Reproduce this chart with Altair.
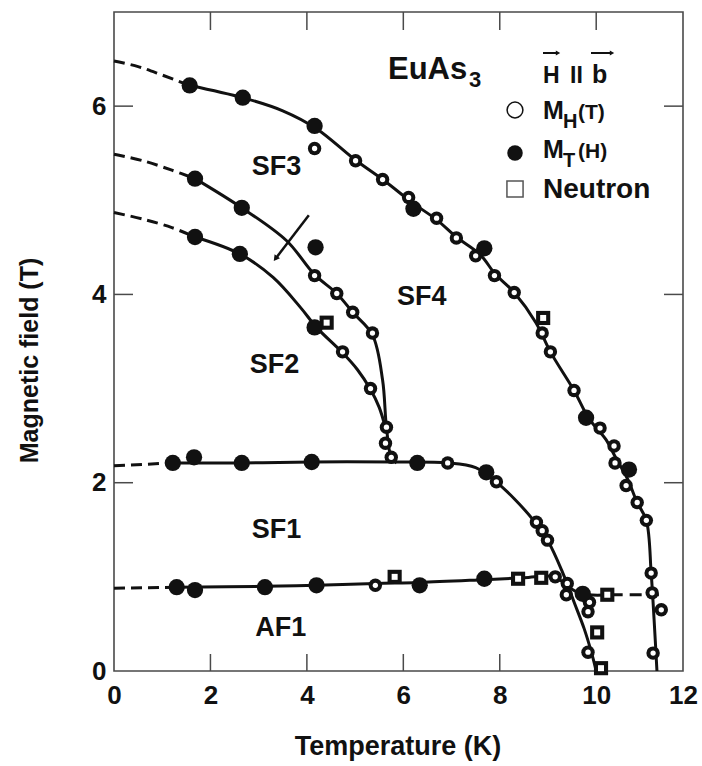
import altair as alt
import pandas as pd

# ---------------- data ----------------
# Phase-boundary curves (solid parts), Temperature (K) / Field (T)
c1_T = [1.57, 2.67, 3.5, 4.2, 5.0, 5.6, 6.2, 6.7, 7.1, 7.6, 7.9, 8.3, 8.75, 9.05, 9.54, 9.85, 10.2, 10.4, 10.65, 10.85, 11.04, 11.14, 11.2, 11.26]
c1_H = [6.22, 6.09, 5.95, 5.76, 5.43, 5.21, 4.97, 4.79, 4.61, 4.42, 4.22, 4.02, 3.70, 3.39, 2.98, 2.68, 2.46, 2.27, 2.04, 1.79, 1.60, 1.04, 0.55, 0.0]
c2_T = [1.68, 2.65, 3.58, 4.16, 4.62, 4.95, 5.36, 5.57, 5.65, 5.75, 5.86]
c2_H = [5.23, 4.92, 4.57, 4.21, 4.01, 3.81, 3.57, 3.09, 2.59, 2.27, 2.21]
c3_T = [1.68, 2.61, 3.3, 3.87, 4.2, 4.74, 5.05, 5.32, 5.5, 5.62]
c3_H = [4.61, 4.43, 4.18, 3.86, 3.65, 3.38, 3.2, 2.99, 2.8, 2.6]
c4_T = [1.22, 2.65, 4.1, 5.8, 6.92, 7.5, 7.9, 8.3, 8.7, 9.0, 9.3, 9.55, 9.75, 9.9, 10.0]
c4_H = [2.21, 2.21, 2.22, 2.22, 2.21, 2.16, 2.02, 1.83, 1.6, 1.38, 1.05, 0.72, 0.45, 0.2, 0.0]
c5_T = [1.3, 3.13, 4.2, 5.42, 6.34, 7.68, 8.5, 9.15, 9.4, 9.7, 10.3]
c5_H = [0.89, 0.9, 0.91, 0.93, 0.94, 0.97, 0.99, 1.0, 0.9, 0.82, 0.81]
# dashed extrapolations
d1_T, d1_H = [0.0, 0.5, 1.0, 1.57], [6.48, 6.42, 6.33, 6.22]
d2_T, d2_H = [0.0, 0.6, 1.2, 1.68], [5.49, 5.42, 5.32, 5.23]
d3_T, d3_H = [0.0, 0.6, 1.2, 1.68], [4.87, 4.80, 4.71, 4.61]
d4_T, d4_H = [0.0, 1.22], [2.18, 2.21]
d5_T, d5_H = [0.0, 1.3], [0.88, 0.89]
d6_T, d6_H = [10.3, 11.3], [0.81, 0.81]

# M_H(T) open circles
open_T = [4.16, 5.01, 5.57, 6.11, 6.69, 7.10, 7.50, 7.89, 8.30, 8.88, 9.05, 9.54, 10.08, 10.37, 10.39,
          10.62, 10.85, 11.04, 11.14, 11.16, 11.35, 11.18,
          4.16, 4.62, 4.95, 5.36, 5.65, 5.63, 5.75, 4.74, 5.32,
          6.92, 7.93, 8.76, 8.88, 8.99, 9.40, 9.38, 9.86, 9.83, 9.83, 5.42, 9.15]
open_H = [5.55, 5.42, 5.22, 5.03, 4.81, 4.60, 4.41, 4.20, 4.02, 3.59, 3.39, 2.98, 2.58, 2.39, 2.21,
          1.97, 1.79, 1.60, 1.04, 0.83, 0.65, 0.19,
          4.20, 4.01, 3.81, 3.59, 2.59, 2.42, 2.27, 3.39, 3.00,
          2.21, 2.01, 1.58, 1.49, 1.39, 0.93, 0.81, 0.73, 0.63, 0.20, 0.91, 1.00]
# M_T(H) filled circles
fill_T = [1.57, 2.67, 4.16, 6.21, 7.68, 9.79, 10.68, 1.68, 2.65, 4.18, 1.68, 2.61, 4.16,
          1.22, 1.66, 2.65, 4.10, 6.29, 7.72, 1.30, 1.68, 3.13, 4.20, 6.34, 7.68, 9.72]
fill_H = [6.22, 6.09, 5.79, 4.91, 4.49, 2.69, 2.14, 5.23, 4.92, 4.50, 4.61, 4.43, 3.65,
          2.21, 2.27, 2.21, 2.22, 2.21, 2.11, 0.89, 0.86, 0.89, 0.91, 0.91, 0.98, 0.82]
# Neutron open squares
sq_T = [4.41, 8.90, 5.82, 8.38, 8.86, 10.23, 10.02, 10.1]
sq_H = [3.70, 3.75, 1.00, 0.98, 0.99, 0.81, 0.41, 0.03]

# region labels
reg_names = ["SF3", "SF4", "SF2", "SF1", "AF1"]
reg_T = [3.37, 6.38, 3.33, 3.37, 3.46]
reg_H = [5.27, 3.89, 3.17, 1.41, 0.37]

# tick values
x_ticks_bottom = [2, 4, 6, 8]
x_ticks_top = [2, 4, 6, 8, 10]
y_ticks = [2, 4, 6]
x_label_vals = [0, 2, 4, 6, 8, 10, 11.8]
y_label_vals = [0, 2, 4, 6]

# arrow marker across the SF3 line
arr_T, arr_H, arr_T2, arr_H2 = [4.04], [4.84], [3.35], [4.38]

# ---------------- build ----------------
W, H = 569, 659
FONT = "Liberation Sans"
INK = "#111111"
FRAME = "#4a4a4a"

def curve_df(name, T, Hv):
    return pd.DataFrame({"T": T, "H": Hv, "curve": name, "i": list(range(len(T)))})

solid = pd.concat([curve_df("c1", c1_T, c1_H), curve_df("c2", c2_T, c2_H),
                   curve_df("c3", c3_T, c3_H), curve_df("c4", c4_T, c4_H),
                   curve_df("c5", c5_T, c5_H)])
dashed = pd.concat([curve_df("d1", d1_T, d1_H), curve_df("d2", d2_T, d2_H),
                    curve_df("d3", d3_T, d3_H), curve_df("d4", d4_T, d4_H),
                    curve_df("d5", d5_T, d5_H)])
dashed2 = curve_df("d6", d6_T, d6_H)

xs = alt.Scale(domain=[0, 11.8], nice=False, zero=False)
ys = alt.Scale(domain=[0, 7], nice=False, zero=False)

xaxis = alt.Axis(values=x_label_vals, labelExpr="datum.value > 11 ? '12' : datum.label",
                 ticks=False, grid=False, domain=False,
                 labelFont=FONT, labelFontSize=26, labelFontWeight="bold", labelColor=INK,
                 labelPadding=11, labelFlush=False,
                 title="Temperature (K)", titleFont=FONT, titleFontSize=27, titleFontWeight="bold",
                 titleColor=INK, titleX=W / 2 - 1, titleY=75, titleBaseline="middle", titleAlign="center")
yaxis = alt.Axis(values=y_label_vals, ticks=False, grid=False, domain=False,
                 labelFont=FONT, labelFontSize=26, labelFontWeight="bold", labelColor=INK,
                 labelPadding=8, labelFlush=False,
                 title="Magnetic field (T)", titleFont=FONT, titleFontSize=25, titleFontWeight="bold",
                 titleColor=INK, titleX=-85, titleY=348, titleAngle=-90, titleBaseline="middle",
                 titleAlign="center")

def X(f="T"):
    return alt.X(f + ":Q", scale=xs, axis=xaxis, title="Temperature (K)")

def Y(f="H"):
    return alt.Y(f + ":Q", scale=ys, axis=yaxis, title="Magnetic field (T)")

lines = alt.Chart(solid).mark_line(color=INK, strokeWidth=3, interpolate="catmull-rom").encode(
    x=X(), y=Y(), detail="curve:N", order="i:Q")
dlines = alt.Chart(dashed).mark_line(color=INK, strokeWidth=3, strokeDash=[11, 6],
                                     interpolate="catmull-rom").encode(
    x=X(), y=Y(), detail="curve:N", order="i:Q")
dlines2 = alt.Chart(dashed2).mark_line(color=INK, strokeWidth=3, strokeDash=[12, 7]).encode(
    x=X(), y=Y(), order="i:Q")

arrow_df = pd.DataFrame({"T": arr_T, "H": arr_H, "T2": arr_T2, "H2": arr_H2})
arrow = alt.Chart(arrow_df).mark_rule(color=INK, strokeWidth=2.5).encode(
    x=X(), y=Y(), x2="T2:Q", y2="H2:Q")
arrow_head = alt.Chart(arrow_df).mark_point(shape="triangle-up", filled=True, color=INK,
                                            size=45, angle=217, opacity=1).encode(
    x=X("T2"), y=Y("H2"))

sq_df = pd.DataFrame({"T": sq_T, "H": sq_H})
op_df = pd.DataFrame({"T": open_T, "H": open_H})
sq_out = alt.Chart(sq_df).mark_square(color=INK, size=200, opacity=1).encode(x=X(), y=Y())
sq_in = alt.Chart(sq_df).mark_square(color="white", size=36, opacity=1).encode(x=X(), y=Y())
op_out = alt.Chart(op_df).mark_circle(color=INK, size=180, opacity=1).encode(x=X(), y=Y())
op_in = alt.Chart(op_df).mark_circle(color="white", size=28, opacity=1).encode(x=X(), y=Y())
fi = alt.Chart(pd.DataFrame({"T": fill_T, "H": fill_H})).mark_circle(
    color=INK, size=265, opacity=1).encode(x=X(), y=Y())

regions = alt.Chart(pd.DataFrame({"T": reg_T, "H": reg_H, "name": reg_names})).mark_text(
    font=FONT, fontSize=27, fontWeight="bold", color=INK, align="center", baseline="alphabetic").encode(
    x=X(), y=Y(), text="name:N")

# inward ticks
tb = alt.Chart(pd.DataFrame({"T": x_ticks_bottom})).mark_rule(color=FRAME, strokeWidth=1.5).encode(
    x=X(), y=alt.value(H), y2=alt.value(H - 17))
tt = alt.Chart(pd.DataFrame({"T": x_ticks_top})).mark_rule(color=FRAME, strokeWidth=1.5).encode(
    x=X(), y=alt.value(0), y2=alt.value(18))
tl = alt.Chart(pd.DataFrame({"H": y_ticks})).mark_rule(color=FRAME, strokeWidth=1.5).encode(
    y=Y(), x=alt.value(0), x2=alt.value(19))
tr = alt.Chart(pd.DataFrame({"H": y_ticks})).mark_rule(color=FRAME, strokeWidth=1.5).encode(
    y=Y(), x=alt.value(W), x2=alt.value(W - 19))

# annotation texts (pixel positions in plot coordinates)
def txt(s, x, y, size, align="left"):
    return alt.Chart(pd.DataFrame({"t": [s]})).mark_text(
        font=FONT, fontSize=size, fontWeight="bold", color=INK, align=align, baseline="alphabetic").encode(
        x=alt.value(x), y=alt.value(y), text="t:N")

title_main = txt("EuAs", 274, 67, 31)
title_sub = txt("3", 355, 75, 22)

hdr_H = txt("H", 429, 71, 23)
hdr_par = txt("II", 456, 71, 23)
hdr_b = txt("b", 478, 71, 25)

def arrow_over(x1, x2, y):
    shaft = alt.Chart(pd.DataFrame({"a": [0]})).mark_rule(color=INK, strokeWidth=2).encode(
        x=alt.value(x1), x2=alt.value(x2 - 3), y=alt.value(y))
    head = alt.Chart(pd.DataFrame({"a": [0]})).mark_point(
        shape="triangle-right", filled=True, color=INK, size=26, opacity=1).encode(
        x=alt.value(x2 - 2), y=alt.value(y))
    return shaft + head

arr1 = arrow_over(429, 446, 41)
arr2 = arrow_over(477, 500, 41)

leg_open = alt.Chart(pd.DataFrame({"a": [0]})).mark_point(
    shape="circle", filled=True, fill="white", stroke=INK, strokeWidth=1.5, size=250, opacity=1).encode(
    x=alt.value(401), y=alt.value(98))
leg_fill = alt.Chart(pd.DataFrame({"a": [0]})).mark_circle(color=INK, size=240, opacity=1).encode(
    x=alt.value(401), y=alt.value(141))
leg_sq = alt.Chart(pd.DataFrame({"a": [0]})).mark_point(
    shape="square", filled=True, fill="white", stroke="#555555", strokeWidth=1.5, size=260, opacity=1).encode(
    x=alt.value(401), y=alt.value(177))

l1a = txt("M", 429, 107, 25)
l1b = txt("H", 449, 116, 20)
l1c = txt("(T)", 464, 107, 21)
l2a = txt("M", 429, 146, 25)
l2b = txt("T", 449, 155, 20)
l2c = txt("(H)", 464, 146, 21)
l3 = txt("Neutron", 429, 186, 28)

chart = alt.layer(
    lines, dlines, dlines2, arrow, arrow_head, sq_out, sq_in, op_out, op_in, fi, regions,
    tb, tt, tl, tr,
    title_main, title_sub, hdr_H, hdr_par, hdr_b, arr1, arr2,
    leg_open, leg_fill, leg_sq, l1a, l1b, l1c, l2a, l2b, l2c, l3,
).properties(
    width=W, height=H,
    autosize=alt.AutoSizeParams(type="none"),
    padding={"left": 114, "top": 12, "right": 19, "bottom": 95},
    background="white",
).configure_view(stroke=FRAME, strokeWidth=1.6)

chart.save("out.html", embed_options={"renderer": "svg", "actions": False})
